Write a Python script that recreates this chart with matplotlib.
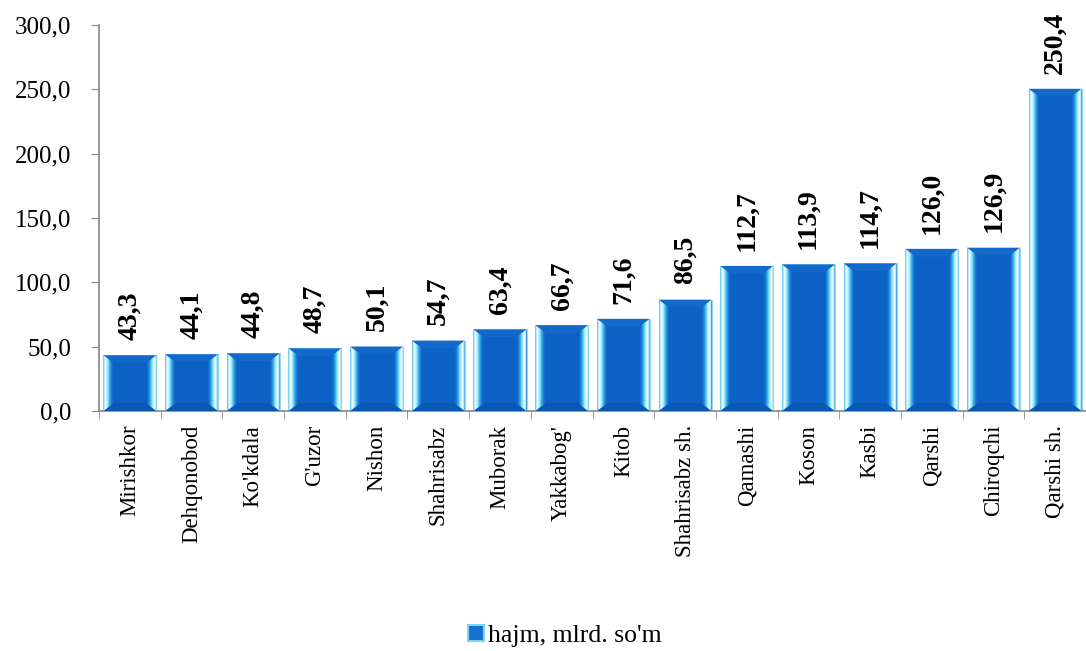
import numpy as np
import matplotlib.pyplot as plt
from matplotlib.patches import Polygon, Patch
from matplotlib.colors import LinearSegmentedColormap

# data
districts = ["Mirishkor", "Dehqonobod", "Ko'kdala", "G'uzor", "Nishon", "Shahrisabz",
             "Muborak", "Yakkabog'", "Kitob", "Shahrisabz sh.", "Qamashi", "Koson",
             "Kasbi", "Qarshi", "Chiroqchi", "Qarshi sh."]
volume = [43.3, 44.1, 44.8, 48.7, 50.1, 54.7, 63.4, 66.7, 71.6, 86.5, 112.7, 113.9,
          114.7, 126.0, 126.9, 250.4]
series_name = "hajm, mlrd. so'm"
yticks = [0, 50, 100, 150, 200, 250, 300]

plt.rcParams['font.family'] = ['Liberation Serif', 'DejaVu Serif']

fig = plt.figure(figsize=(10.86, 6.51), dpi=100)
ax = fig.add_axes([0.0912, 0.3687, 0.9088, 0.5929])

x = np.arange(len(districts))
bars = ax.bar(x, volume, width=0.86, color='#0B62C4', edgecolor='#8FDAF7', linewidth=0.8, zorder=2)

# bevel look: light gradient strips on the sides, slightly lighter top and darker bottom
edge_cmap = LinearSegmentedColormap.from_list(
    "edge", [(0.0, "#4FBDF0"), (0.2, "#FFFFFF"), (0.4, "#9FEFFF"), (0.6, "#3FB0EC"),
             (0.8, "#1673D0"), (1.0, "#0B60C0")])
grad = np.linspace(0, 1, 64).reshape(1, -1)
dy = 6.0
for b in bars:
    x0, w, h = b.get_x(), b.get_width(), b.get_height()
    x1 = x0 + w
    bw = 0.2 * w
    top = Polygon([(x0, h), (x0 + bw, h - dy), (x1 - bw, h - dy), (x1, h)],
                  closed=True, facecolor='#1369CA', edgecolor='none', zorder=3)
    bot = Polygon([(x0, 0), (x0 + bw, dy), (x1 - bw, dy), (x1, 0)],
                  closed=True, facecolor='#0A57B4', edgecolor='none', zorder=3)
    ax.add_patch(top)
    ax.add_patch(bot)
    left = Polygon([(x0, 0), (x0 + bw, dy), (x0 + bw, h - dy), (x0, h)],
                   closed=True, facecolor='none', edgecolor='none')
    right = Polygon([(x1, 0), (x1 - bw, dy), (x1 - bw, h - dy), (x1, h)],
                    closed=True, facecolor='none', edgecolor='none')
    ax.add_patch(left)
    ax.add_patch(right)
    im = ax.imshow(grad, cmap=edge_cmap, aspect='auto', extent=(x0, x0 + bw, 0, h), zorder=3)
    im.set_clip_path(left)
    im2 = ax.imshow(grad[:, ::-1], cmap=edge_cmap, aspect='auto', extent=(x1 - bw, x1, 0, h), zorder=3)
    im2.set_clip_path(right)
    ax.annotate(f"{h:.1f}".replace('.', ','), (b.get_x() + w / 2, h), xytext=(0, 11),
                textcoords='offset points', rotation=90, ha='center', va='bottom',
                fontsize=20, fontweight='bold')

ax.set_xlim(-0.5, len(districts) - 0.5)
ax.set_ylim(0, 300)
ax.set_yticks(yticks)
ax.set_yticklabels([f"{v:.1f}".replace('.', ',') for v in yticks], fontsize=18)
ax.set_xticks(x)
ax.set_xticklabels(districts, rotation=90, fontsize=16.5)
ax.set_xticks(np.arange(-0.5, len(districts)), minor=True)
ax.tick_params(axis='x', which='major', length=0, pad=10)
ax.tick_params(axis='x', which='minor', length=6, color='#888888')
ax.tick_params(axis='y', length=6, color='#888888', pad=14)
for s in ['top', 'right']:
    ax.spines[s].set_visible(False)
for s in ['left', 'bottom']:
    ax.spines[s].set_color('#888888')
    ax.spines[s].set_linewidth(1.2)

handle = Patch(facecolor='#1670CE', edgecolor='#7FD3F5', linewidth=1.5)
fig.legend([handle], [series_name], loc='center', bbox_to_anchor=(0.52, 0.023),
           frameon=False, fontsize=18.5, handlelength=0.6, handleheight=0.6, handletextpad=0.15)

fig.savefig("out.png", dpi=100)
